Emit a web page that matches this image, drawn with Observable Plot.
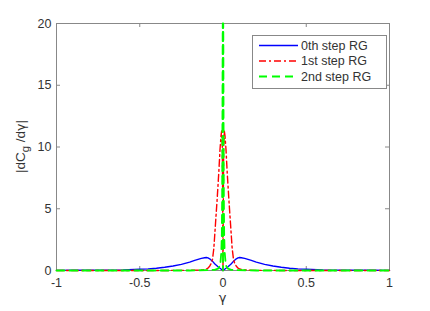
<!DOCTYPE html>
<html>
<head>
<meta charset="utf-8">
<script src="https://cdn.jsdelivr.net/npm/d3@7"></script>
<script src="https://cdn.jsdelivr.net/npm/@observablehq/plot@0.6"></script>
<style>
  html, body { margin: 0; padding: 0; background: #fff; }
  #chart svg { display: block; }
</style>
</head>
<body>
<div id="chart"></div>
<script>
// ---- data ----
const seriesNames = ["0th step RG", "1st step RG", "2nd step RG"];
const seriesColors = ["#0000ff", "#ff0000", "#00ff00"];
const seriesDash = [null, "7,3,2,3", "8,5"];

const x0 = [-1, -0.9, -0.8, -0.7, -0.6, -0.5, -0.45, -0.4, -0.35, -0.3, -0.25, -0.2, -0.17, -0.15, -0.13, -0.11, -0.1, -0.09, -0.08, -0.07, -0.06, -0.05, -0.04, -0.03, -0.02, -0.01, 0,
            0.01, 0.02, 0.03, 0.04, 0.05, 0.06, 0.07, 0.08, 0.09, 0.1, 0.11, 0.13, 0.15, 0.17, 0.2, 0.25, 0.3, 0.35, 0.4, 0.45, 0.5, 0.6, 0.7, 0.8, 0.9, 1];
const y0 = [0.01, 0.015, 0.02, 0.03, 0.05, 0.1, 0.13, 0.18, 0.26, 0.36, 0.5, 0.68, 0.82, 0.9, 0.98, 1.03, 1.05, 1.02, 0.95, 0.83, 0.7, 0.55, 0.42, 0.3, 0.2, 0.1, 0,
            0.1, 0.2, 0.3, 0.42, 0.55, 0.7, 0.83, 0.95, 1.02, 1.05, 1.03, 0.98, 0.9, 0.82, 0.68, 0.5, 0.36, 0.26, 0.18, 0.13, 0.1, 0.05, 0.03, 0.02, 0.015, 0.01];

const x1 = [-1, -0.5, -0.2, -0.15, -0.12, -0.1, -0.09, -0.08, -0.07, -0.063, -0.055, -0.045, -0.035, -0.025, -0.018, -0.012, -0.008, -0.004, -0.002, 0,
            0.002, 0.004, 0.008, 0.012, 0.018, 0.025, 0.035, 0.045, 0.055, 0.063, 0.07, 0.08, 0.09, 0.1, 0.12, 0.15, 0.2, 0.5, 1];
const y1 = [0, 0, 0.01, 0.03, 0.06, 0.12, 0.2, 0.35, 0.6, 0.9, 1.8, 3.8, 5.8, 8, 9.8, 10.9, 11.3, 10, 6, 0,
            6, 10, 11.3, 10.9, 9.8, 8, 5.8, 3.8, 1.8, 0.9, 0.6, 0.35, 0.2, 0.12, 0.06, 0.03, 0.01, 0, 0];

const x2 = [-1, -0.2, -0.05, -0.03, -0.02, -0.015, -0.01, -0.007, -0.005, -0.004, -0.003, -0.002, -0.0015, -0.001, -0.0005, 0,
            0.0005, 0.001, 0.0015, 0.002, 0.003, 0.004, 0.005, 0.007, 0.01, 0.015, 0.02, 0.03, 0.05, 0.2, 1];
const y2 = [0, 0, 0.05, 0.15, 0.35, 0.7, 1.5, 3, 6, 9, 14, 19, 20, 17, 9, 0,
            9, 17, 20, 19, 14, 9, 6, 3, 1.5, 0.7, 0.35, 0.15, 0.05, 0, 0];

const xTicks = [-1, -0.5, 0, 0.5, 1];
const yTicks = [0, 5, 10, 15, 20];
const xLabel = "γ";

const rows = (xs, ys, name) => xs.map((x, i) => ({x, y: ys[i], name}));
const data = [rows(x0, y0, seriesNames[0]), rows(x1, y1, seriesNames[1]), rows(x2, y2, seriesNames[2])];

// ---- layout ----
const W = 430, H = 311;
const mL = 56, mR = 41, mT = 23, mB = 41;
const fw = W - mL - mR, fh = H - mT - mB;
const axisGrey = "#888888";
const textCol = "#333333";
const font = "Liberation Sans, Arial, sans-serif";
const greekFont = "DejaVu Sans, sans-serif";
const fs = 12.5;

const lineMarks = data.map((d, i) => Plot.line(d, {
  x: "x", y: "y", stroke: seriesColors[i], strokeWidth: i === 2 ? 1.8 : 1.4,
  strokeDasharray: seriesDash[i] || undefined, curve: "linear"
}));

const plot = Plot.plot({
  width: W, height: H,
  marginLeft: mL, marginRight: mR, marginTop: mT, marginBottom: mB,
  style: {fontFamily: font, fontSize: fs + "px", color: textCol, background: "#fff", overflow: "visible"},
  x: {domain: [-1, 1]},
  y: {domain: [0, 20]},
  marks: [
    Plot.frame({stroke: axisGrey, strokeWidth: 1}),
    Plot.tickX(xTicks, {x: d => d, stroke: axisGrey, insetTop: fh - 4}),
    Plot.tickX(xTicks, {x: d => d, stroke: axisGrey, insetBottom: fh - 4}),
    Plot.tickY(yTicks, {y: d => d, stroke: axisGrey, insetRight: fw - 4}),
    Plot.tickY(yTicks, {y: d => d, stroke: axisGrey, insetLeft: fw - 4}),
    Plot.axisX(xTicks, {tickSize: 0, tickPadding: 8, tickFormat: d => String(d), label: null, fill: textCol, fontSize: fs}),
    Plot.axisY(yTicks, {tickSize: 0, tickPadding: 5, tickFormat: d => String(d), label: null, fill: textCol, fontSize: fs}),
    ...lineMarks
  ]
});

document.getElementById("chart").appendChild(plot);

// ---- axis titles and legend ----
const svg = d3.select(plot);

svg.append("text")
  .attr("x", mL + fw / 2).attr("y", H - 9)
  .attr("text-anchor", "middle")
  .attr("font-family", greekFont).attr("font-size", 13)
  .attr("fill", textCol)
  .text(xLabel);

const yl = svg.append("text")
  .attr("transform", `translate(25,${mT + fh / 2}) rotate(-90)`)
  .attr("text-anchor", "middle")
  .attr("font-family", font).attr("font-size", fs + 1)
  .attr("fill", textCol);
yl.append("tspan").text("|dC");
yl.append("tspan").attr("font-size", fs - 1).attr("dy", 4).text("g");
yl.append("tspan").attr("dy", -4).text(" /d");
yl.append("tspan").attr("font-family", greekFont).attr("font-size", fs).text("γ");
yl.append("tspan").text("|");

const lg = svg.append("g");
const lx = 252, ly = 35, lw = 134, lh = 53;
lg.append("rect").attr("x", lx + 0.5).attr("y", ly + 0.5).attr("width", lw).attr("height", lh)
  .attr("fill", "#fff").attr("stroke", axisGrey).attr("stroke-width", 1);
seriesNames.forEach((name, i) => {
  const yy = ly + 10.5 + i * 15.5;
  lg.append("line").attr("x1", lx + 7).attr("x2", lx + 46).attr("y1", yy).attr("y2", yy)
    .attr("stroke", seriesColors[i]).attr("stroke-width", i === 2 ? 1.8 : 1.4)
    .attr("stroke-dasharray", seriesDash[i]);
  lg.append("text").attr("x", lx + 49).attr("y", yy).attr("dy", "0.35em")
    .attr("text-anchor", "start")
    .attr("font-family", font).attr("font-size", fs).attr("fill", textCol).text(name);
});
</script>
</body>
</html>
